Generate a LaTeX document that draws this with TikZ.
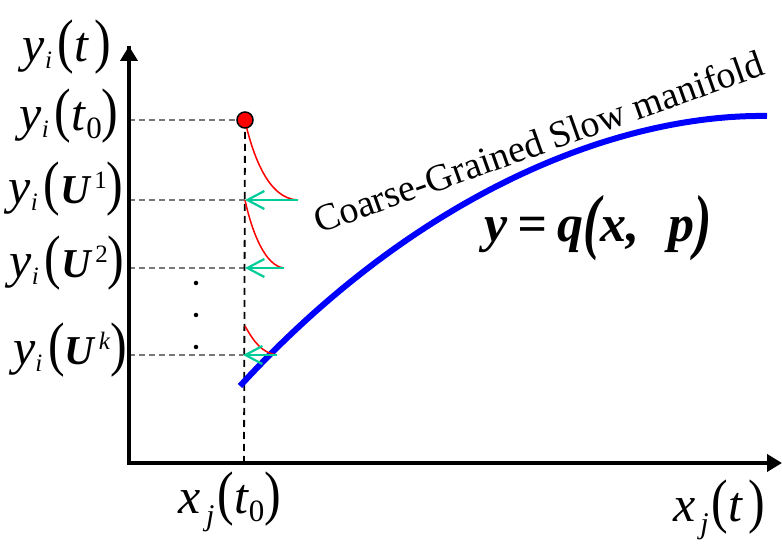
\documentclass[tikz,border=0pt]{standalone}
\usepackage{fontspec}
\setmainfont{Liberation Serif}
\usepackage{graphicx}
\usetikzlibrary{arrows.meta}
\definecolor{arrgreen}{RGB}{0,204,153}
\definecolor{dgray}{RGB}{120,120,120}
\newcommand{\LP}{\scalebox{1}[1.2]{(}}
\newcommand{\RP}{\scalebox{1}[1.2]{)}}
\newcommand{\BLP}{\raisebox{-0.08em}{\scalebox{1}[1.39]{(}}}
\newcommand{\BRP}{\raisebox{-0.08em}{\scalebox{1}[1.39]{)}}}
\newcommand{\lsubi}[1]{\raisebox{-0.14em}{\scalebox{0.5}{\textit{#1}}}}
\newcommand{\lsubj}[1]{\raisebox{-0.25em}{\scalebox{0.6}{\textit{#1}}}}
\newcommand{\lsubn}[1]{\raisebox{-0.16em}{\scalebox{0.62}{#1}}}
\newcommand{\lsup}[1]{\raisebox{0.3em}{\scalebox{0.5}{#1}}}
\newcommand{\bU}{\scalebox{0.82}{\textbf{\textit{U}}}}
\newcommand{\yi}{\textit{y}\lsubi{i}\hspace{0.12em}}
\newcommand{\xj}{\textit{x}\hspace{0.1em}\lsubj{j}\hspace{0.06em}}
\tikzset{
  lbl/.style={inner sep=0pt, font=\fontsize{50}{54}\selectfont},
  axisline/.style={line width=4.2pt, -{Triangle[length=15pt,width=17pt]}},
  guide/.style={dgray, line width=1.6pt, dash pattern=on 6pt off 4pt},
  vguide/.style={black, line width=1.8pt, dash pattern=on 7pt off 5pt},
  relax/.style={red, line width=1.5pt},
  proj/.style={arrgreen, line width=2.2pt, -{Straight Barb[length=17pt,width=18pt,line width=2.2pt]}},
  manifold/.style={blue, line width=6pt},
  dotsym/.style={circle, fill=black, inner sep=0pt, minimum size=4.5pt},
}
\begin{document}
\begin{tikzpicture}[x=1pt,y=-1pt]
\useasboundingbox (0,0) rectangle (782,545);
% key coordinates
\coordinate (O) at (129,463);
\coordinate (ytop) at (129,46);
\coordinate (xend) at (782,463);
\coordinate (x0) at (244,463);
\coordinate (g0) at (129,120);
\coordinate (g1) at (129,200);
\coordinate (g2) at (129,268);
\coordinate (gk) at (129,355);
\coordinate (p1) at (245,200);
\coordinate (p2) at (245,268);
\coordinate (pk) at (243,355);
\coordinate (a1) at (298,200);
\coordinate (a2) at (284,268);
\coordinate (ak) at (277,355);
\coordinate (rk) at (245,326);
\coordinate (m0) at (240,386);
\coordinate (m1) at (767,116);
% guides
\draw[guide] (g0) -- (245,120);
\draw[guide] (g1) -- (p1);
\draw[guide] (g2) -- (p2);
\draw[guide] (gk) -- (pk);
\draw[vguide] (245,120) -- (x0);
% manifold
\draw[manifold] (m0) .. controls (420,190) and (620,114) .. (m1);
% relaxation curves
\draw[relax] (245,121) .. controls (253,155) and (268,199) .. (a1);
\draw[relax] (p1) .. controls (252,232) and (265,266) .. (a2);
\draw[relax] (rk) .. controls (254,342) and (262,353) .. (ak);
% projection arrows
\draw[proj] (a1) -- (p1);
\draw[proj] (a2) -- (p2);
\draw[proj] (ak) -- (pk);
% initial point
\node[circle, fill=red, draw=black, line width=1.5pt, minimum size=16pt, inner sep=0pt] (ic) at (245,120) {};
% dots
\node[dotsym] (d1) at (196,283) {};
\node[dotsym] (d2) at (196,315) {};
\node[dotsym] (d3) at (196,347) {};
% axes
\draw[axisline, line join=miter] (ytop) -- (O) -- (xend);
\draw[axisline] (O) -- (ytop);
% labels
\node[lbl] (lyt) at (67,47) {\yi\LP\textit{t}\hspace{0.1em}\RP};
\node[lbl] (lyt0) at (69,116) {\yi\LP\textit{t}\lsubn{0}\RP};
\node[lbl] (lyu1) at (66,189) {\yi\LP\bU\hspace{0.05em}\lsup{1}\RP};
\node[lbl] (lyu2) at (67,263) {\yi\LP\bU\hspace{0.05em}\lsup{2}\RP};
\node[lbl] (lyuk) at (70,350) {\yi\LP\bU\hspace{0.05em}\lsup{\textit{k}}\RP};
\node[lbl] (lx0) at (230,502) {\xj\LP\textit{t}\lsubn{0}\RP};
\node[lbl] (lxt) at (719,510) {\xj\LP\textit{t}\hspace{0.1em}\RP};
\node[inner sep=0pt, font=\fontsize{52}{56}\selectfont\bfseries\itshape] (eq) at (598,228) {y\hspace{0.2em}=\hspace{0.2em}q\BLP x,\hspace{0.55em}p\BRP};
\node[inner sep=0pt, font=\fontsize{38}{42}\selectfont, rotate=19.6, anchor=base] (cap) at (543,154) {Coarse-Grained Slow manifold};
\end{tikzpicture}
\end{document}
